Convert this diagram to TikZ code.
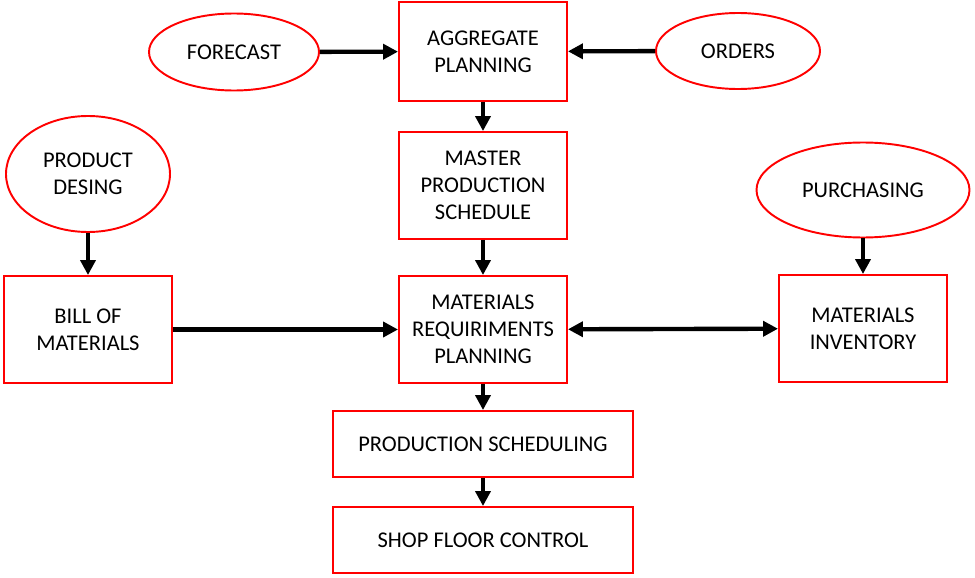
\documentclass[tikz,border=0pt]{standalone}
\usepackage{fontspec}
\setmainfont{Carlito}
\usepackage{tikz}
\usetikzlibrary{arrows.meta,positioning,calc,shapes.geometric}

\begin{document}
\begin{tikzpicture}[x=0.02cm, y=-0.02cm, every node/.style={font=\fontsize{12.8}{15.4}\selectfont, align=center},
  arr/.style={line width=2.5pt, -{Triangle[length=8.5pt,width=8.5pt]}}]
\useasboundingbox (0,0) rectangle (975,578);
% ovals
\foreach \name/\x/\y/\w/\h/\txt in {fc/234/52/170/77/FORECAST, ord/738/51/164/76/ORDERS,
  pd/88/174/164/116/{PRODUCT\\DESING}, pur/863/190/213/95/PURCHASING} {
  \node[ellipse,draw=red,line width=1.1pt,inner sep=0pt,minimum width={\w*0.02cm},minimum height={\h*0.02cm}] (\name) at (\x,\y) {\txt};
}
% boxes
\foreach \name/\x/\y/\w/\h/\txt in {ag/483/51.5/168/99/{AGGREGATE\\PLANNING}, mps/483/185.5/168/107/{MASTER\\PRODUCTION\\SCHEDULE},
  bom/88/329.5/168/107/{BILL OF\\MATERIALS}, mrp/483/329.5/168/107/{MATERIALS\\REQUIRIMENTS\\PLANNING},
  mi/863/328.5/168/107/{MATERIALS\\INVENTORY}, ps/483/444/300/66/PRODUCTION SCHEDULING,
  sfc/483/540/300/66/SHOP FLOOR CONTROL} {
  \node[rectangle,draw=red,line width=1.1pt,inner sep=0pt,minimum width={\w*0.02cm},minimum height={\h*0.02cm}] (\name) at (\x,\y) {\txt};
}
\draw[arr] (fc)--(ag);
\draw[arr] (ord)--(ag);
\draw[arr] (ag)--(mps);
\draw[arr] (mps)--(mrp);
\draw[arr] (pd)--(bom);
\draw[arr] (bom)--(mrp);
\draw[arr,{Triangle[length=8.5pt,width=8.5pt]}-{Triangle[length=8.5pt,width=8.5pt]}] (mrp)--(mi);
\draw[arr] (pur)--(mi);
\draw[arr] (mrp)--(ps);
\draw[arr] (ps)--(sfc);
\end{tikzpicture}
\end{document}
